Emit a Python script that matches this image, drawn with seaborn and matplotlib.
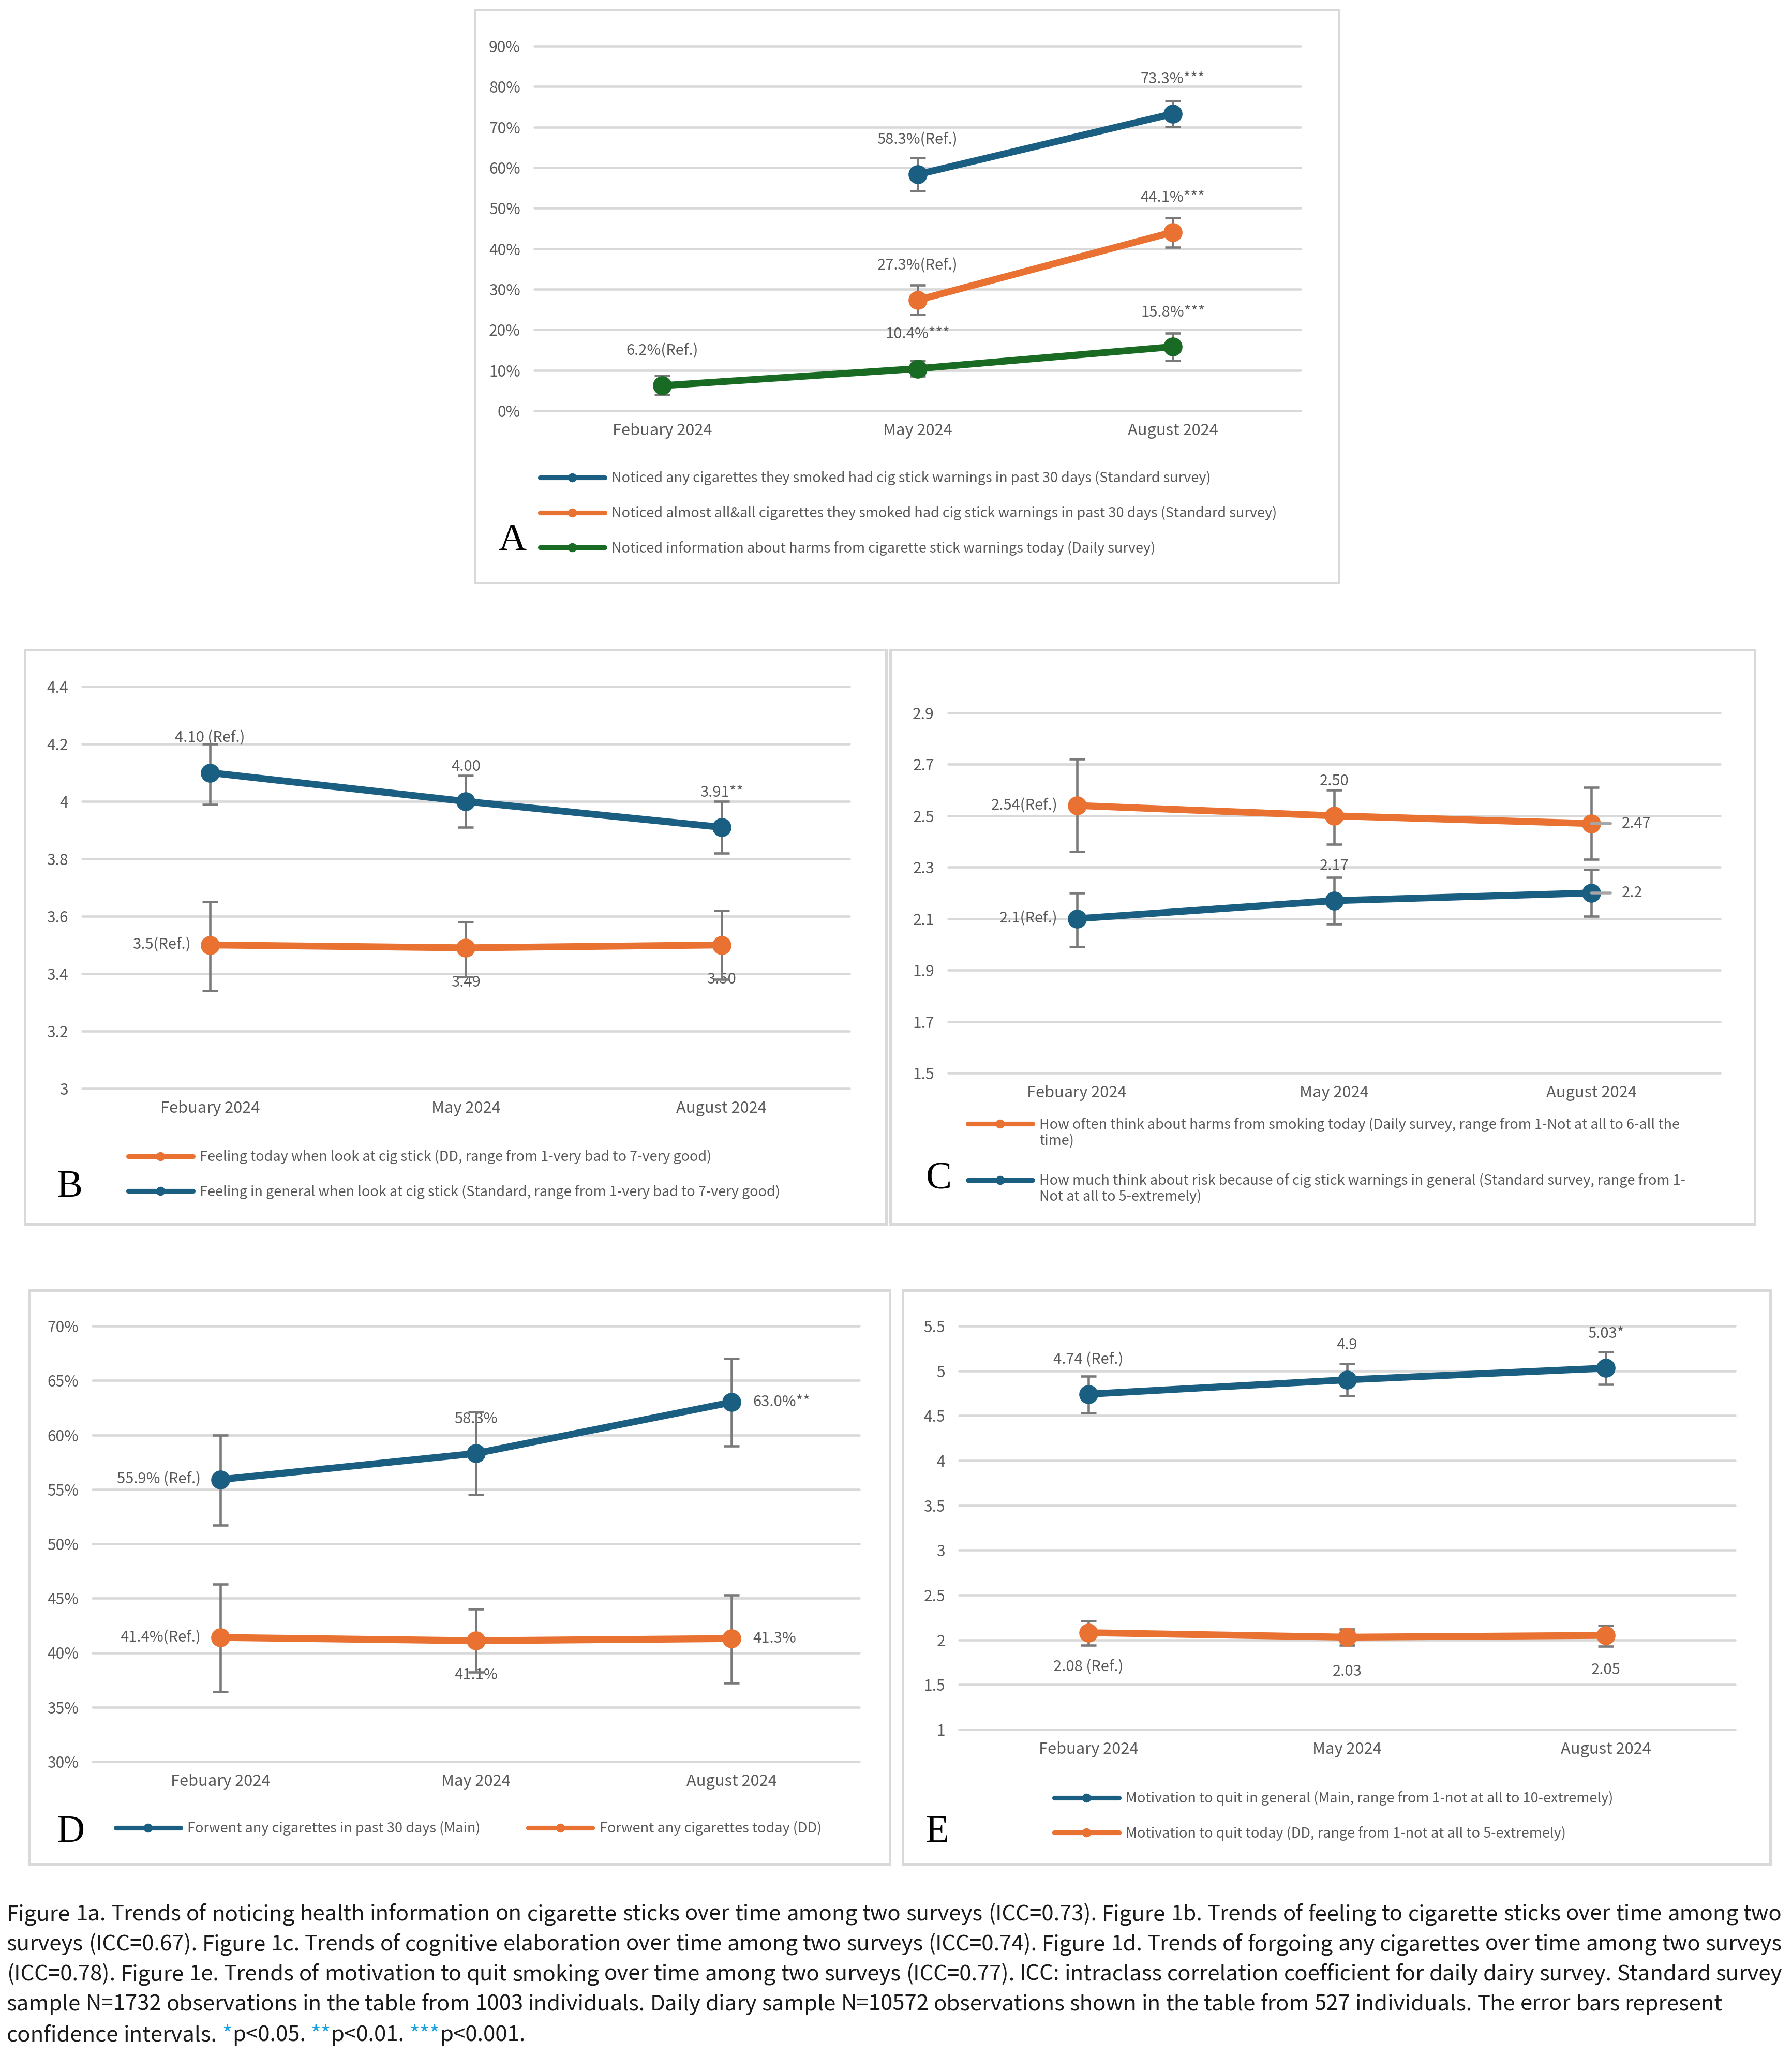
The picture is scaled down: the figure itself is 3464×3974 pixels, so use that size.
import numpy as np
import pandas as pd
import matplotlib
matplotlib.use("Agg")
import matplotlib.pyplot as plt
import seaborn as sns
from matplotlib.lines import Line2D
from matplotlib.patches import Rectangle
from matplotlib.ticker import FuncFormatter

# =========================================================
# DATA
# =========================================================
waves = ["Febuary 2024", "May 2024", "August 2024"]

# A - noticing health information on cigarette sticks (%)
a_names = [
    "Noticed any cigarettes they smoked had cig stick warnings in past 30 days (Standard survey)",
    "Noticed almost all&all cigarettes they smoked had cig stick warnings in past 30 days (Standard survey)",
    "Noticed information about harms from cigarette stick warnings today (Daily survey)",
]
a_any = [np.nan, 58.3, 73.3]
a_any_lo = [np.nan, 54.2, 70.1]
a_any_hi = [np.nan, 62.4, 76.5]
a_any_txt = ["", "58.3%(Ref.)", "73.3%***"]
a_all = [np.nan, 27.3, 44.1]
a_all_lo = [np.nan, 23.7, 40.4]
a_all_hi = [np.nan, 31.0, 47.6]
a_all_txt = ["", "27.3%(Ref.)", "44.1%***"]
a_daily = [6.2, 10.4, 15.8]
a_daily_lo = [3.9, 8.5, 12.4]
a_daily_hi = [8.7, 12.4, 19.1]
a_daily_txt = ["6.2%(Ref.)", "10.4%***", "15.8%***"]
a_ticks = [0, 10, 20, 30, 40, 50, 60, 70, 80, 90]

# B - feeling when looking at cig stick
b_names = [
    "Feeling today when look at cig stick (DD, range from 1-very bad to 7-very good)",
    "Feeling in general when look at cig stick (Standard, range from 1-very bad to 7-very good)",
]
b_today = [3.50, 3.49, 3.50]
b_today_lo = [3.34, 3.39, 3.38]
b_today_hi = [3.65, 3.58, 3.62]
b_today_txt = ["3.5(Ref.)", "3.49", "3.50"]
b_general = [4.10, 4.00, 3.91]
b_general_lo = [3.99, 3.91, 3.82]
b_general_hi = [4.20, 4.09, 4.00]
b_general_txt = ["4.10 (Ref.)", "4.00", "3.91**"]
b_ticks = [3.0, 3.2, 3.4, 3.6, 3.8, 4.0, 4.2, 4.4]

# C - cognitive elaboration (legend labels wrap onto a second line)
c_names = [
    "How often think about harms from smoking today (Daily survey, range from 1-Not at all to 6-all the\ntime)",
    "How much think about risk because of cig stick warnings in general (Standard survey, range from 1-\nNot at all to 5-extremely)",
]
c_daily = [2.54, 2.50, 2.47]
c_daily_lo = [2.36, 2.39, 2.33]
c_daily_hi = [2.72, 2.60, 2.61]
c_daily_txt = ["2.54(Ref.)", "2.50", "2.47"]
c_standard = [2.10, 2.17, 2.20]
c_standard_lo = [1.99, 2.08, 2.11]
c_standard_hi = [2.20, 2.26, 2.29]
c_standard_txt = ["2.1(Ref.)", "2.17", "2.2"]
c_ticks = [1.5, 1.7, 1.9, 2.1, 2.3, 2.5, 2.7, 2.9]

# D - forgoing any cigarettes (%)
d_names = [
    "Forwent any cigarettes in past 30 days (Main)",
    "Forwent any cigarettes today (DD)",
]
d_main = [55.9, 58.3, 63.0]
d_main_lo = [51.7, 54.5, 59.0]
d_main_hi = [60.0, 62.1, 67.0]
d_main_txt = ["55.9% (Ref.)", "58.3%", "63.0%**"]
d_dd = [41.4, 41.1, 41.3]
d_dd_lo = [36.4, 38.2, 37.2]
d_dd_hi = [46.3, 44.0, 45.3]
d_dd_txt = ["41.4%(Ref.)", "41.1%", "41.3%"]
d_ticks = [30, 35, 40, 45, 50, 55, 60, 65, 70]

# E - motivation to quit
e_names = [
    "Motivation to quit in general (Main, range from 1-not at all to 10-extremely)",
    "Motivation to quit today (DD, range from 1-not at all to 5-extremely)",
]
e_main = [4.74, 4.90, 5.03]
e_main_lo = [4.53, 4.72, 4.85]
e_main_hi = [4.94, 5.08, 5.21]
e_main_txt = ["4.74 (Ref.)", "4.9", "5.03*"]
e_dd = [2.08, 2.03, 2.05]
e_dd_lo = [1.94, 1.94, 1.93]
e_dd_hi = [2.21, 2.12, 2.16]
e_dd_txt = ["2.08 (Ref.)", "2.03", "2.05"]
e_ticks = [1.0, 1.5, 2.0, 2.5, 3.0, 3.5, 4.0, 4.5, 5.0, 5.5]

caption_lines = [
    "Figure 1a. Trends of noticing health information on cigarette sticks over time among two surveys (ICC=0.73). Figure 1b. Trends of feeling to cigarette sticks over time among two",
    "surveys (ICC=0.67). Figure 1c. Trends of cognitive elaboration over time among two surveys (ICC=0.74). Figure 1d. Trends of forgoing any cigarettes over time among two surveys",
    "(ICC=0.78). Figure 1e. Trends of motivation to quit smoking over time among two surveys (ICC=0.77). ICC: intraclass correlation coefficient for daily dairy survey. Standard survey",
    "sample N=1732 observations in the table from 1003 individuals. Daily diary sample N=10572 observations shown in the table from 527 individuals. The error bars represent",
]

# =========================================================
# STYLE
# =========================================================
BLUE = "#1A5E82"
ORANGE = "#E97132"
GREEN = "#196B24"
GRID = "#D9D9D9"
ERR = "#7A7A7A"
TXT = "#595959"
STAR = "#1BA1E2"
LAB_FS = 7.0
LEG_FS = 6.5

sns.set_theme(style="white")
plt.rcParams["font.family"] = ["Noto Sans CJK SC", "DejaVu Sans"]

W, H, DPI = 3464, 3974, 300
fig = plt.figure(figsize=(W / DPI, H / DPI), dpi=DPI)
fig.patch.set_facecolor("white")


def px_rect(x0, y0, x1, y1):
    return [x0 / W, 1 - y1 / H, (x1 - x0) / W, (y1 - y0) / H]


def add_box(x0, y0, x1, y1):
    fig.add_artist(Rectangle((x0 / W, 1 - y1 / H), (x1 - x0) / W, (y1 - y0) / H,
                             transform=fig.transFigure, fill=False,
                             edgecolor=GRID, linewidth=1.2))


OFFS = {"above": (0, 16, "center"), "below": (0, -16, "center"),
        "left": (-9, 0, "right"), "right": (10, 0, "left"), "leader": (14, 0, "left")}


def draw_panel(ax, series, ticks, pct):
    rows = []
    for s in series:
        for w, v in zip(waves, s["val"]):
            if not np.isnan(v):
                rows.append({"wave": w, "value": v, "series": s["name"]})
    df = pd.DataFrame(rows)
    df["wave"] = pd.Categorical(df["wave"], categories=waves, ordered=True)

    sns.lineplot(data=df, x="wave", y="value", hue="series",
                 hue_order=[s["name"] for s in series],
                 palette=[s["color"] for s in series],
                 marker="o", markersize=8.8, markeredgewidth=0,
                 linewidth=3.2, legend=False, errorbar=None, ax=ax, zorder=4)

    for s in series:
        v = np.array(s["val"], dtype=float)
        lo = np.array(s["lo"], dtype=float)
        hi = np.array(s["hi"], dtype=float)
        ok = ~np.isnan(v)
        xs = [w for w, k in zip(waves, ok) if k]
        ax.errorbar(xs, v[ok], yerr=[v[ok] - lo[ok], hi[ok] - v[ok]], fmt="none",
                    ecolor=ERR, elinewidth=1.1, capsize=3.6, capthick=1.1, zorder=3)
        for w, val, txt, side in zip(waves, v, s["txt"], s["side"]):
            if not txt:
                continue
            dx, dy, ha = OFFS[side]
            if side == "leader":
                ax.annotate(txt, xy=(w, val), xytext=(dx, dy), textcoords="offset points",
                            ha=ha, va="center", fontsize=LAB_FS, color=TXT, zorder=6,
                            arrowprops=dict(arrowstyle="-", color="#A6A6A6", lw=1.3,
                                            shrinkA=3, shrinkB=0))
            else:
                ax.annotate(txt, xy=(w, val), xytext=(dx, dy), textcoords="offset points",
                            ha=ha, va="center", fontsize=LAB_FS, color=TXT, zorder=2)

    ax.set_xlim(-0.5, len(waves) - 0.5)
    ax.set_ylim(ticks[0], ticks[-1])
    ax.set_yticks(ticks)
    if pct:
        ax.yaxis.set_major_formatter(FuncFormatter(lambda t, p: f"{t:.0f}%"))
    else:
        ax.yaxis.set_major_formatter(FuncFormatter(lambda t, p: f"{round(t, 2):g}"))
    ax.grid(axis="y", color=GRID, linewidth=1.1)
    ax.grid(axis="x", visible=False)
    for gl in ax.get_ygridlines():
        gl.set_clip_on(False)
    sns.despine(ax=ax, left=True, bottom=True)
    ax.tick_params(axis="y", length=0, pad=6.5, labelsize=7.2, labelcolor=TXT)
    ax.tick_params(axis="x", length=0, pad=5.5, labelsize=7.4, labelcolor=TXT)
    ax.set_xlabel("")
    ax.set_ylabel("")
    ax.set_facecolor("white")


def add_legend(series, x, y, ncol=1, colsp=2.0, lsp=1.47, first_line_only=False):
    handles = [Line2D([0], [0], color=s["color"], lw=2.2, marker="o", markersize=4.2,
                      markeredgewidth=0) for s in series]
    labels = [s["name"].split("\n")[0] if first_line_only else s["name"] for s in series]
    return fig.legend(handles, labels, loc="center left",
                      bbox_to_anchor=(x / W, 1 - y / H), bbox_transform=fig.transFigure,
                      frameon=False, fontsize=LEG_FS, labelcolor=TXT, ncol=ncol,
                      handlelength=4.6, handletextpad=0.5, labelspacing=lsp,
                      columnspacing=colsp, borderpad=0, borderaxespad=0, numpoints=1)


def add_letter(s, x, y):
    fig.text(x / W, 1 - y / H, s, fontsize=18, family="Liberation Serif",
             color="black", ha="left", va="baseline")


# =========================================================
# PANEL A
# =========================================================
add_box(918, 19, 2588, 1126)
ax_a = fig.add_axes(px_rect(1033, 89, 2514, 794))
series_a = [
    dict(name=a_names[0], val=a_any, lo=a_any_lo, hi=a_any_hi, txt=a_any_txt,
         side=["above"] * 3, color=BLUE),
    dict(name=a_names[1], val=a_all, lo=a_all_lo, hi=a_all_hi, txt=a_all_txt,
         side=["above"] * 3, color=ORANGE),
    dict(name=a_names[2], val=a_daily, lo=a_daily_lo, hi=a_daily_hi, txt=a_daily_txt,
         side=["above"] * 3, color=GREEN),
]
draw_panel(ax_a, series_a, a_ticks, pct=True)
add_legend(series_a, 1044, 992)
add_letter("A", 963, 1063)

# =========================================================
# PANEL B
# =========================================================
add_box(48, 1256, 1713, 2366)
ax_b = fig.add_axes(px_rect(159, 1327, 1642, 2104))
series_b = [
    dict(name=b_names[0], val=b_today, lo=b_today_lo, hi=b_today_hi, txt=b_today_txt,
         side=["left", "below", "below"], color=ORANGE),
    dict(name=b_names[1], val=b_general, lo=b_general_lo, hi=b_general_hi, txt=b_general_txt,
         side=["above"] * 3, color=BLUE),
]
draw_panel(ax_b, series_b, b_ticks, pct=False)
add_legend(series_b, 248, 2270)
add_letter("B", 110, 2313)

# =========================================================
# PANEL C
# =========================================================
add_box(1721, 1256, 3392, 2366)
ax_c = fig.add_axes(px_rect(1833, 1378, 3325, 2074))
series_c = [
    dict(name=c_names[0], val=c_daily, lo=c_daily_lo, hi=c_daily_hi, txt=c_daily_txt,
         side=["left", "above", "leader"], color=ORANGE),
    dict(name=c_names[1], val=c_standard, lo=c_standard_lo, hi=c_standard_hi, txt=c_standard_txt,
         side=["left", "above", "leader"], color=BLUE),
]
draw_panel(ax_c, series_c, c_ticks, pct=False)
# handle sits next to the first text line, wrapped remainder goes underneath
leg_c = add_legend(series_c, 1871, 2228, lsp=2.98, first_line_only=True)
add_letter("C", 1790, 2298)

# =========================================================
# PANEL D
# =========================================================
add_box(56, 2494, 1720, 3603)
ax_d = fig.add_axes(px_rect(179, 2563, 1661, 3405))
series_d = [
    dict(name=d_names[0], val=d_main, lo=d_main_lo, hi=d_main_hi, txt=d_main_txt,
         side=["left", "above", "right"], color=BLUE),
    dict(name=d_names[1], val=d_dd, lo=d_dd_lo, hi=d_dd_hi, txt=d_dd_txt,
         side=["left", "below", "right"], color=ORANGE),
]
draw_panel(ax_d, series_d, d_ticks, pct=True)
add_legend(series_d, 224, 3534, ncol=2, colsp=3.4)
add_letter("D", 110, 3560)

# =========================================================
# PANEL E
# =========================================================
add_box(1745, 2494, 3422, 3603)
ax_e = fig.add_axes(px_rect(1854, 2563, 3354, 3343))
series_e = [
    dict(name=e_names[0], val=e_main, lo=e_main_lo, hi=e_main_hi, txt=e_main_txt,
         side=["above"] * 3, color=BLUE),
    dict(name=e_names[1], val=e_dd, lo=e_dd_lo, hi=e_dd_hi, txt=e_dd_txt,
         side=["below"] * 3, color=ORANGE),
]
draw_panel(ax_e, series_e, e_ticks, pct=False)
add_legend(series_e, 2038, 3510)
add_letter("E", 1789, 3560)

# wrapped second lines of the panel C legend
fig.canvas.draw()
renderer = fig.canvas.get_renderer()
for t, s in zip(leg_c.get_texts(), series_c):
    rest = s["name"].split("\n")[1]
    bb = t.get_window_extent(renderer)
    _, _, d = renderer.get_text_width_height_descent(t.get_text(), t.get_fontproperties(), ismath=False)
    base = bb.y0 + d - 31
    fig.text(bb.x0 / W, base / H, rest, fontsize=LEG_FS, color=TXT,
             ha="left", va="baseline")

# =========================================================
# CAPTION (justified like the journal layout)
# =========================================================
CAP_FONT = ["Noto Sans CJK SC", "DejaVu Sans"]


def text_w(s, size):
    t = fig.text(0, 0, s, fontsize=size, family=CAP_FONT)
    w = t.get_window_extent(renderer).width
    t.remove()
    return w


# font size chosen so that the un-justified 4th line has its natural width
cap_size = 10 * 3321 / text_w(caption_lines[3], 10)
space_w = text_w("a a", cap_size) - text_w("aa", cap_size)
x_left, x_right = 13, 3445
baselines = [3712, 3770, 3828, 3886, 3945]


def put(s, x, y, color="#1a1a1a"):
    fig.text(x / W, 1 - y / H, s, fontsize=cap_size, family=CAP_FONT,
             color=color, ha="left", va="baseline")


for i, line in enumerate(caption_lines):
    words = line.split(" ")
    widths = [text_w(wd, cap_size) for wd in words]
    if i < 3:
        gap = (x_right - x_left - sum(widths)) / (len(words) - 1)
    else:
        gap = space_w
    x = x_left
    for wd, wdt in zip(words, widths):
        put(wd, x, baselines[i])
        x += wdt + gap

last = [[("confidence", None)], [("intervals.", None)],
        [("*", STAR), ("p<0.05.", None)], [("**", STAR), ("p<0.01.", None)],
        [("***", STAR), ("p<0.001.", None)]]
x = x_left
for word in last:
    for piece, col in word:
        put(piece, x, baselines[4], color=col or "#1a1a1a")
        x += text_w(piece, cap_size)
    x += space_w

fig.savefig("out.png", dpi=DPI, facecolor="white")
print("saved out.png")
